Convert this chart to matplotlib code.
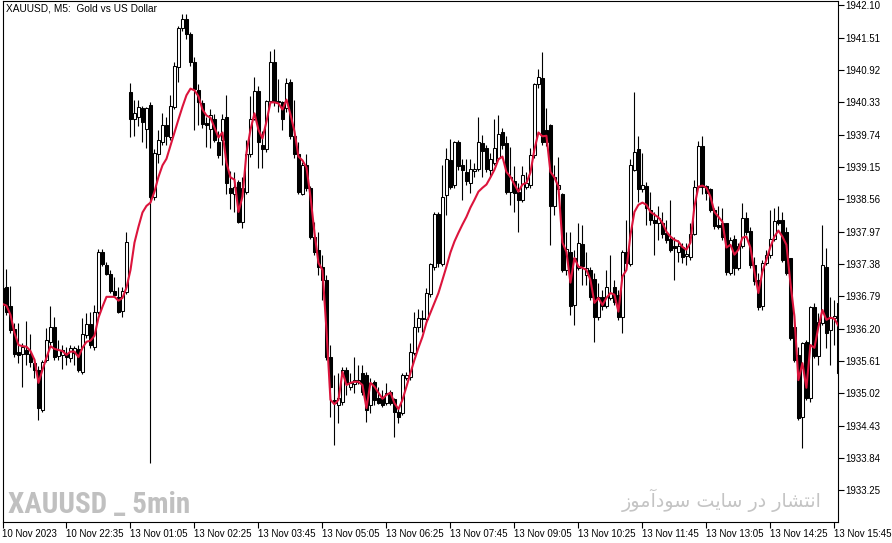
import numpy as np
import matplotlib
matplotlib.use('Agg')
import matplotlib.pyplot as plt
from matplotlib import font_manager

# XAUUSD M5 candles, 10 Nov 2023 21:15 .. 13 Nov 15:45
opens = [
    1936.95, 1936.96, 1936.62, 1936.20, 1935.78, 1935.74, 1935.81, 1935.74, 1935.57, 1935.45,
    1934.71, 1935.63, 1935.96, 1936.23, 1935.70, 1935.72, 1935.76, 1935.67, 1935.76, 1935.83,
    1935.41, 1936.09, 1936.29, 1935.87, 1936.51, 1937.59, 1937.37, 1937.20, 1936.89, 1936.78,
    1936.52, 1936.87, 1940.51, 1940.02, 1940.07, 1940.23, 1939.85, 1940.29, 1938.61, 1939.39,
    1939.61, 1939.91, 1939.69, 1940.25, 1940.97, 1941.68, 1941.86, 1941.57, 1941.06, 1940.55,
    1940.31, 1939.96, 1939.85, 1940.03, 1939.61, 1939.65, 1940.07, 1938.77, 1938.65, 1938.88,
    1938.15, 1938.70, 1939.38, 1940.03, 1940.53, 1939.56, 1939.47, 1940.35, 1941.06, 1940.33,
    1940.33, 1940.22, 1940.71, 1939.72, 1939.38, 1938.66, 1939.19, 1938.77, 1937.88, 1937.64,
    1937.33, 1937.09, 1935.68, 1934.90, 1934.81, 1934.86, 1935.45, 1935.14, 1935.19, 1935.23,
    1935.39, 1935.36, 1934.81, 1935.23, 1934.93, 1934.93, 1934.84, 1935.04, 1934.92, 1934.68,
    1934.66, 1935.30, 1935.32, 1935.76, 1936.23, 1936.38, 1936.38, 1936.84, 1937.33, 1938.30,
    1937.38, 1938.63, 1939.27, 1938.83, 1939.60, 1939.19, 1939.06, 1938.86, 1939.08, 1939.12,
    1939.58, 1939.49, 1939.10, 1939.23, 1939.32, 1939.78, 1939.58, 1938.70, 1938.90, 1938.70,
    1938.55, 1938.79, 1938.83, 1939.36, 1940.66, 1940.78, 1939.83, 1939.91, 1938.43, 1938.74,
    1938.65, 1937.27, 1937.60, 1936.63, 1937.31, 1937.75, 1937.18, 1937.27, 1937.11, 1936.42,
    1936.78, 1936.62, 1936.76, 1936.96, 1936.82, 1936.42, 1937.60, 1937.38, 1939.10, 1939.47,
    1938.74, 1938.81, 1938.37, 1938.19, 1938.13, 1938.13, 1937.95, 1937.84, 1937.71, 1937.59,
    1937.69, 1937.53, 1937.51, 1937.93, 1938.79, 1939.54, 1938.81, 1938.74, 1938.37, 1938.10,
    1938.13, 1938.12, 1937.22, 1937.84, 1937.31, 1937.71, 1938.22, 1937.99, 1937.37, 1937.09,
    1936.62, 1937.40, 1937.55, 1937.84, 1938.19, 1938.19, 1937.97, 1937.48, 1936.23, 1935.72,
    1934.59, 1935.96, 1934.93, 1936.60, 1935.70, 1936.31, 1937.33, 1936.18, 1936.40, 1936.67,
]
highs = [
    1937.02, 1937.29, 1936.98, 1936.31, 1936.31, 1935.94, 1936.34, 1936.10, 1935.67, 1935.52,
    1935.63, 1936.21, 1936.62, 1936.42, 1935.99, 1935.90, 1935.87, 1935.90, 1935.88, 1935.90,
    1936.40, 1936.49, 1936.51, 1936.63, 1937.66, 1937.66, 1937.42, 1937.27, 1937.15, 1936.96,
    1936.96, 1937.97, 1940.69, 1940.38, 1940.38, 1940.27, 1940.25, 1940.33, 1939.47, 1939.83,
    1940.14, 1940.07, 1940.47, 1941.06, 1941.72, 1941.95, 1941.94, 1941.61, 1941.15, 1940.66,
    1940.38, 1940.07, 1940.20, 1940.11, 1939.80, 1940.11, 1940.46, 1939.08, 1939.06, 1938.92,
    1938.96, 1939.65, 1940.44, 1940.80, 1940.62, 1939.80, 1940.38, 1941.26, 1941.31, 1940.75,
    1940.36, 1940.78, 1940.75, 1940.38, 1939.61, 1939.25, 1939.38, 1938.81, 1938.15, 1937.97,
    1937.55, 1937.18, 1935.90, 1935.36, 1935.39, 1935.50, 1935.50, 1935.39, 1935.68, 1935.54,
    1935.54, 1935.41, 1935.30, 1935.26, 1935.14, 1935.08, 1935.21, 1935.08, 1934.93, 1934.77,
    1935.39, 1935.41, 1935.94, 1936.51, 1936.56, 1936.54, 1936.95, 1937.40, 1938.33, 1938.33,
    1939.19, 1939.50, 1939.67, 1939.63, 1939.65, 1939.29, 1939.29, 1939.29, 1939.23, 1940.07,
    1939.74, 1939.56, 1939.41, 1940.02, 1940.09, 1939.87, 1939.71, 1939.52, 1939.16, 1938.86,
    1939.16, 1939.06, 1939.50, 1940.69, 1940.93, 1941.24, 1940.23, 1939.94, 1939.19, 1939.34,
    1938.68, 1937.97, 1937.97, 1937.64, 1938.13, 1938.10, 1937.59, 1937.33, 1937.22, 1937.04,
    1936.91, 1937.27, 1937.55, 1937.09, 1936.91, 1937.64, 1938.19, 1939.29, 1940.51, 1939.71,
    1939.41, 1938.88, 1938.70, 1938.33, 1938.43, 1938.32, 1938.19, 1938.55, 1937.88, 1937.82,
    1937.77, 1937.77, 1938.13, 1938.92, 1939.63, 1939.71, 1938.83, 1938.76, 1938.41, 1938.43,
    1938.41, 1938.13, 1937.88, 1937.91, 1937.77, 1938.50, 1938.32, 1938.06, 1937.51, 1937.22,
    1937.46, 1937.64, 1938.37, 1938.41, 1938.44, 1938.32, 1938.06, 1937.49, 1936.49, 1935.87,
    1935.96, 1935.99, 1936.62, 1936.67, 1936.49, 1938.10, 1937.68, 1936.78, 1936.73, 1936.67,
]
lows = [
    1936.54, 1936.45, 1936.12, 1935.68, 1935.57, 1935.14, 1935.54, 1935.50, 1935.30, 1934.53,
    1934.68, 1935.59, 1935.90, 1935.63, 1935.63, 1935.47, 1935.54, 1935.59, 1935.54, 1935.41,
    1935.37, 1936.03, 1935.85, 1935.81, 1936.47, 1937.35, 1937.17, 1936.85, 1936.78, 1936.49,
    1936.42, 1936.84, 1939.69, 1939.71, 1939.89, 1939.60, 1939.50, 1933.75, 1938.55, 1939.23,
    1939.56, 1939.56, 1939.65, 1940.20, 1940.71, 1941.63, 1941.48, 1941.00, 1939.83, 1939.92,
    1939.87, 1939.52, 1939.50, 1939.60, 1939.32, 1939.19, 1938.66, 1938.39, 1938.32, 1938.12,
    1938.04, 1938.66, 1939.34, 1940.00, 1939.14, 1939.14, 1939.43, 1940.31, 1940.27, 1940.16,
    1939.82, 1940.16, 1939.67, 1939.32, 1938.65, 1938.63, 1938.72, 1937.84, 1937.55, 1937.18,
    1936.73, 1935.63, 1934.59, 1934.07, 1934.48, 1934.81, 1934.99, 1935.08, 1935.03, 1935.19,
    1934.99, 1934.50, 1934.66, 1934.81, 1934.82, 1934.77, 1934.81, 1934.81, 1934.22, 1934.48,
    1934.62, 1935.26, 1935.26, 1935.72, 1936.14, 1936.14, 1936.32, 1936.78, 1937.27, 1937.33,
    1937.35, 1938.28, 1938.74, 1938.77, 1939.10, 1938.55, 1938.83, 1938.68, 1938.96, 1939.08,
    1938.97, 1939.06, 1938.97, 1939.19, 1939.29, 1939.47, 1938.65, 1938.46, 1938.32, 1937.97,
    1938.52, 1938.74, 1938.77, 1939.32, 1940.60, 1939.56, 1939.54, 1937.73, 1938.28, 1938.65,
    1937.24, 1937.18, 1936.45, 1936.27, 1937.27, 1937.00, 1937.00, 1936.73, 1935.96, 1936.36,
    1936.54, 1936.58, 1936.73, 1936.63, 1936.36, 1936.12, 1937.37, 1937.35, 1939.07, 1938.52,
    1938.70, 1938.10, 1938.10, 1937.55, 1937.82, 1937.86, 1937.77, 1937.59, 1937.09, 1937.42,
    1937.40, 1937.37, 1937.46, 1937.90, 1938.76, 1938.65, 1938.55, 1938.33, 1938.01, 1938.01,
    1937.82, 1937.18, 1937.18, 1937.18, 1937.27, 1937.68, 1937.91, 1937.31, 1937.00, 1936.54,
    1936.54, 1937.37, 1937.49, 1937.80, 1938.10, 1937.42, 1937.18, 1935.99, 1935.59, 1934.53,
    1934.02, 1934.90, 1934.86, 1935.67, 1935.54, 1936.27, 1935.85, 1935.54, 1935.90, 1935.36,
]
closes = [
    1936.63, 1936.51, 1936.18, 1935.74, 1935.72, 1935.87, 1935.74, 1935.59, 1935.45, 1934.75,
    1935.59, 1935.99, 1936.23, 1935.68, 1935.81, 1935.81, 1935.68, 1935.85, 1935.85, 1935.45,
    1936.10, 1936.29, 1935.90, 1936.51, 1937.60, 1937.38, 1937.20, 1936.89, 1936.82, 1936.51,
    1936.89, 1937.79, 1940.02, 1940.13, 1940.25, 1939.98, 1940.23, 1938.61, 1939.41, 1939.65,
    1939.91, 1939.71, 1940.27, 1940.99, 1941.68, 1941.86, 1941.57, 1941.06, 1940.58, 1940.33,
    1939.94, 1939.92, 1940.09, 1939.65, 1939.36, 1940.03, 1938.85, 1938.68, 1938.79, 1938.15,
    1938.77, 1939.38, 1940.03, 1940.53, 1939.60, 1939.47, 1940.35, 1941.06, 1940.35, 1940.36,
    1940.02, 1940.69, 1939.72, 1939.38, 1938.70, 1939.19, 1938.76, 1937.88, 1937.59, 1937.33,
    1937.09, 1935.68, 1935.14, 1934.84, 1934.93, 1935.45, 1935.21, 1935.21, 1935.26, 1935.26,
    1935.04, 1934.71, 1935.21, 1934.90, 1934.84, 1934.81, 1935.03, 1934.84, 1934.68, 1934.59,
    1935.36, 1935.36, 1935.78, 1936.23, 1936.40, 1936.40, 1936.85, 1937.38, 1938.30, 1937.40,
    1938.61, 1939.30, 1938.79, 1939.60, 1939.16, 1939.10, 1938.90, 1939.12, 1939.12, 1939.60,
    1939.45, 1939.12, 1939.30, 1939.49, 1939.76, 1939.56, 1938.70, 1938.96, 1938.68, 1938.55,
    1939.01, 1938.86, 1939.36, 1940.66, 1940.80, 1939.60, 1939.60, 1938.43, 1938.97, 1938.83,
    1937.27, 1937.66, 1936.62, 1937.49, 1937.77, 1937.35, 1937.31, 1936.78, 1936.42, 1936.78,
    1936.62, 1936.96, 1936.85, 1936.69, 1936.42, 1937.60, 1937.40, 1939.19, 1939.43, 1938.74,
    1938.83, 1938.41, 1938.19, 1938.13, 1938.21, 1937.93, 1937.82, 1937.64, 1937.68, 1937.71,
    1937.51, 1937.57, 1937.93, 1938.79, 1939.54, 1938.79, 1938.68, 1938.37, 1938.08, 1938.06,
    1937.88, 1937.24, 1937.82, 1937.31, 1937.71, 1938.22, 1937.97, 1937.37, 1937.06, 1936.60,
    1937.40, 1937.55, 1937.84, 1938.17, 1938.13, 1937.46, 1937.22, 1936.03, 1935.63, 1934.57,
    1935.94, 1934.93, 1936.60, 1935.70, 1936.32, 1937.37, 1936.12, 1936.40, 1936.43, 1935.39,
]
# red moving-average line, one value per candle
ma_line = [
    1936.65, 1936.62, 1936.45, 1936.12, 1935.90, 1935.88, 1935.87, 1935.79, 1935.63, 1935.21,
    1935.45, 1935.67, 1935.88, 1935.83, 1935.81, 1935.79, 1935.72, 1935.78, 1935.78, 1935.68,
    1935.85, 1935.96, 1935.98, 1936.07, 1936.40, 1936.60, 1936.78, 1936.78, 1936.78, 1936.71,
    1936.76, 1936.95, 1937.27, 1937.77, 1938.06, 1938.32, 1938.44, 1938.50, 1938.70, 1938.97,
    1939.18, 1939.30, 1939.54, 1939.78, 1940.02, 1940.25, 1940.46, 1940.58, 1940.55, 1940.44,
    1940.20, 1940.09, 1940.05, 1939.87, 1939.69, 1939.78, 1939.23, 1938.96, 1938.92, 1938.33,
    1938.61, 1939.41, 1939.83, 1940.13, 1939.83, 1939.67, 1939.98, 1940.33, 1940.33, 1940.31,
    1940.20, 1940.38, 1940.11, 1939.80, 1939.34, 1939.27, 1939.14, 1938.61, 1937.95, 1937.40,
    1937.27, 1936.18, 1934.90, 1934.82, 1934.90, 1935.41, 1935.17, 1935.21, 1935.23, 1935.23,
    1935.17, 1934.75, 1935.21, 1935.14, 1935.03, 1934.92, 1934.99, 1935.03, 1934.84, 1934.73,
    1934.90, 1935.14, 1935.39, 1935.63, 1935.85, 1936.05, 1936.31, 1936.49, 1936.67, 1936.85,
    1937.09, 1937.33, 1937.59, 1937.79, 1937.95, 1938.10, 1938.24, 1938.41, 1938.55, 1938.70,
    1938.77, 1938.83, 1938.96, 1939.10, 1939.29, 1939.34, 1939.06, 1938.97, 1938.83, 1938.70,
    1938.83, 1938.86, 1939.05, 1939.47, 1939.78, 1939.71, 1939.72, 1939.06, 1938.96, 1938.79,
    1937.77, 1937.60, 1937.04, 1937.49, 1937.33, 1937.31, 1937.27, 1937.09, 1936.67, 1936.76,
    1936.63, 1936.76, 1936.85, 1936.82, 1936.51, 1937.15, 1937.27, 1937.91, 1938.33, 1938.46,
    1938.50, 1938.46, 1938.33, 1938.28, 1938.23, 1938.13, 1937.97, 1937.88, 1937.82, 1937.79,
    1937.69, 1937.64, 1937.77, 1938.43, 1938.79, 1938.81, 1938.77, 1938.61, 1938.33, 1938.24,
    1938.15, 1937.68, 1937.73, 1937.55, 1937.64, 1937.86, 1937.88, 1937.68, 1937.24, 1936.85,
    1937.24, 1937.46, 1937.69, 1937.88, 1937.99, 1937.88, 1937.73, 1937.04, 1936.42, 1935.26,
    1935.57, 1935.12, 1935.90, 1935.85, 1936.23, 1936.54, 1936.36, 1936.40, 1936.38, 1936.25,
]

time_labels = ['10 Nov 2023', '10 Nov 22:35', '13 Nov 01:05', '13 Nov 02:25',
               '13 Nov 03:45', '13 Nov 05:05', '13 Nov 06:25', '13 Nov 07:45',
               '13 Nov 09:05', '13 Nov 10:25', '13 Nov 11:45', '13 Nov 13:05',
               '13 Nov 14:25', '13 Nov 15:45']
time_label_bars = [0, 16, 32, 48, 64, 80, 96, 112, 128, 144, 160, 176, 192, 208]
price_ticks = [1933.25, 1933.84, 1934.43, 1935.02, 1935.61, 1936.20, 1936.79, 1937.38,
               1937.97, 1938.56, 1939.15, 1939.74, 1940.33, 1940.92, 1941.51, 1942.10]

plt.rcParams['font.family'] = ['Liberation Sans', 'DejaVu Sans']

# pick a narrow bold face for the big watermark, if one is installed
names = {f.name for f in font_manager.fontManager.ttflist}
narrow = 'DejaVu Sans'
for cand in ['Liberation Sans Narrow', 'DejaVu Sans Condensed', 'Roboto Condensed',
             'Open Sans Condensed', 'Noto Sans Condensed']:
    if cand in names:
        narrow = cand
        break

o = np.array(opens)
h = np.array(highs)
l = np.array(lows)
c = np.array(closes)
x = np.arange(len(c))
up = c >= o

W, H = 892, 543
fig = plt.figure(figsize=(W / 100, H / 100), dpi=100)
ax = fig.add_axes([2.5 / W, (H - 522) / H, 835.5 / W, 521 / H])

ax.vlines(x, l, h, color='black', linewidth=0.8, zorder=1)
ax.bar(x[up], (c - o)[up], bottom=o[up], width=0.55, facecolor='white',
       edgecolor='black', linewidth=0.75, zorder=2)
ax.bar(x[~up], (o - c)[~up], bottom=c[~up], width=0.55, facecolor='black',
       edgecolor='black', linewidth=0.75, zorder=2)
ax.plot(x, ma_line, color='#dc143c', linewidth=1.5, zorder=3)

ax.set_xlim(0, 208.9)
ax.set_ylim(1932.67, 1942.18)

ax.yaxis.tick_right()
ax.set_yticks(price_ticks)
ax.set_yticklabels(['%.2f' % p for p in price_ticks])
ax.set_xticks(time_label_bars)
ax.set_xticklabels(time_labels, ha='left')
ax.tick_params(axis='both', direction='out', length=4, width=0.8,
               labelsize=7, pad=1, colors='black')
for s in ax.spines.values():
    s.set_linewidth(0.8)

ax.text(0.004, 0.995, 'XAUUSD, M5:  Gold vs US Dollar', transform=ax.transAxes,
        ha='left', va='top', fontsize=7.3)

wm_size = 21 if narrow != 'DejaVu Sans' else 15
fig.text(8 / W, 1 - 513 / H, 'XAUUSD _ 5min', fontsize=wm_size, fontweight='bold',
         family=narrow, fontstretch='condensed', color='#c0c0c0',
         ha='left', va='baseline')
# Persian watermark, letters given in shaped (presentation) form, visual order
persian = '\ufeaf\ufeee\ufee3\ufe81\ufea9\ufeee\ufeb3 \ufe96\ufef3\ufe8e\ufeb3 \ufead\ufea9 \ufead\ufe8e\ufeb8\ufe98\ufee7\ufe8d'
fig.text(822 / W, 1 - 507 / H, persian, fontsize=13.8, family='DejaVu Sans',
         color='#c4c4c4', ha='right', va='baseline')

fig.savefig('out.png', dpi=100, facecolor='white')
